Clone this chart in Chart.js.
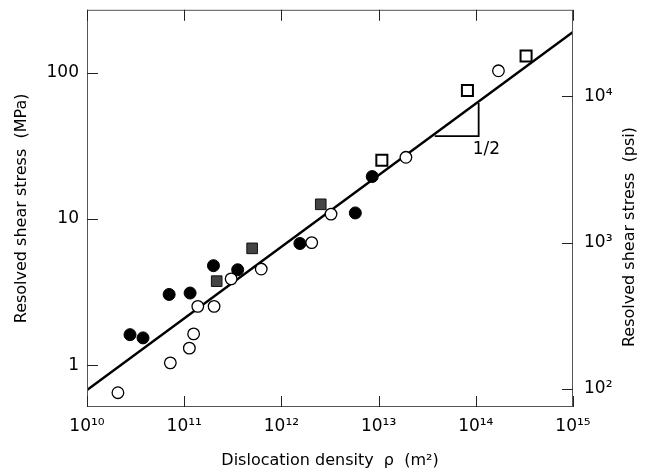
<!DOCTYPE html>
<html>
<head>
<meta charset="utf-8">
<script src="https://cdn.jsdelivr.net/npm/chart.js@4.4.1/dist/chart.umd.min.js"></script>
<style>
  html, body { margin: 0; padding: 0; background: #fff; }
</style>
</head>
<body>
<canvas id="chart" width="646" height="473"></canvas>
<script>
// dislocation density (m^-2) and resolved shear stress (MPa)
const openCircleRho = [2.08e10, 7.2e10, 1.13e11, 1.25e11, 1.38e11, 2.03e11, 3.04e11, 6.2e11, 2.05e12, 3.24e12, 1.91e13, 1.71e14];
const openCircleTau = [0.65, 1.04, 1.31, 1.64, 2.53, 2.53, 3.9, 4.55, 6.9, 10.8, 26.4, 103];

const filledCircleRho = [2.77e10, 3.77e10, 7.0e10, 1.15e11, 2.0e11, 3.55e11, 1.55e12, 5.76e12, 8.6e12];
const filledCircleTau = [1.62, 1.54, 3.05, 3.12, 4.8, 4.5, 6.8, 11.0, 19.5];

const graySquareRho = [2.16e11, 5.0e11, 2.54e12];
const graySquareTau = [3.76, 6.3, 12.6];

const openSquareRho = [1.08e13, 8.2e13, 3.29e14];
const openSquareTau = [25.2, 75.5, 130];

// fitted line, slope 1/2
const fitRho = [1e10, 1e15];
const fitTau = [0.677, 190];

// slope triangle
const triRho = [3.78e13, 1.07e14, 1.07e14];
const triTau = [36.9, 36.9, 62];
const slopeLabel = '1/2';

const xTicks = [1e10, 1e11, 1e12, 1e13, 1e14, 1e15];
const xTickLabels = ['10¹⁰', '10¹¹', '10¹²', '10¹³', '10¹⁴', '10¹⁵'];
const yTicks = [1, 10, 100];
const yTickLabels = ['1', '10', '100'];
const psiTicks = [100, 1000, 10000];
const psiTickLabels = ['10²', '10³', '10⁴'];

const yMin = 0.519, yMax = 269;
const MPA_TO_PSI = 145.04;

const pts = (xs, ys) => xs.map((x, i) => ({ x: x, y: ys[i] }));
const FONT = 'DejaVu Sans';

const decorations = {
  id: 'decorations',
  afterDraw(chart) {
    const c = chart.ctx;
    const a = chart.chartArea;
    const x = chart.scales.x, y = chart.scales.y, psi = chart.scales.psi;
    c.save();
    c.strokeStyle = '#555';
    c.lineWidth = 1;
    c.strokeRect(a.left + 0.5, a.top + 0.5, a.right - a.left - 1, a.bottom - a.top - 1);
    c.strokeStyle = '#222';
    c.beginPath();
    const len = 11;
    xTicks.forEach(v => {
      const px = Math.round(x.getPixelForValue(v)) + 0.5;
      c.moveTo(px, a.bottom); c.lineTo(px, a.bottom - len);
      c.moveTo(px, a.top); c.lineTo(px, a.top + len);
    });
    yTicks.forEach(v => {
      const py = Math.round(y.getPixelForValue(v)) + 0.5;
      c.moveTo(a.left, py); c.lineTo(a.left + len, py);
    });
    psiTicks.forEach(v => {
      const py = Math.round(psi.getPixelForValue(v)) + 0.5;
      c.moveTo(a.right, py); c.lineTo(a.right - len, py);
    });
    c.stroke();

    // slope label
    c.fillStyle = '#000';
    c.font = '17px ' + FONT;
    c.textBaseline = 'middle';
    c.textAlign = 'left';
    c.fillText(slopeLabel, x.getPixelForValue(triRho[1]) - 6, y.getPixelForValue(triTau[1]) + 14);

    // right axis title, reading bottom to top
    c.font = '16px ' + FONT;
    c.textAlign = 'center';
    c.translate(630, 237);
    c.rotate(-Math.PI / 2);
    c.fillText('Resolved shear stress  (psi)', 0, 0);
    c.restore();
  }
};

const noVPad = s => { s.paddingTop = 0; s.paddingBottom = 0; };

new Chart(document.getElementById('chart'), {
  type: 'scatter',
  data: {
    datasets: [
      { data: pts(openCircleRho, openCircleTau), pointStyle: 'circle', pointRadius: 5.8,
        backgroundColor: '#fff', borderColor: '#000', borderWidth: 1.3 },
      { data: pts(filledCircleRho, filledCircleTau), pointStyle: 'circle', pointRadius: 6,
        backgroundColor: '#000', borderColor: '#000', borderWidth: 1 },
      { data: pts(graySquareRho, graySquareTau), pointStyle: 'rect', pointRadius: 7.5,
        backgroundColor: '#444', borderColor: '#111', borderWidth: 1 },
      { data: pts(openSquareRho, openSquareTau), pointStyle: 'rect', pointRadius: 7.8,
        backgroundColor: '#fff', borderColor: '#000', borderWidth: 2 },
      { data: pts(fitRho, fitTau), showLine: true, pointRadius: 0, borderColor: '#000', borderWidth: 2.5 },
      { data: pts(triRho, triTau), showLine: true, pointRadius: 0, borderColor: '#000', borderWidth: 1.8 }
    ]
  },
  options: {
    responsive: false,
    animation: false,
    devicePixelRatio: 1,
    layout: { padding: { top: 6, left: 0, right: 0, bottom: 0 } },
    plugins: { legend: { display: false }, tooltip: { enabled: false } },
    scales: {
      x: {
        type: 'logarithmic', position: 'bottom', min: 1e10, max: 1e15,
        afterBuildTicks: s => { s.ticks = xTicks.map(v => ({ value: v })); },
        afterFit: s => { s.height = 66; s.paddingLeft = 0; s.paddingRight = 0; },
        grid: { display: false, drawTicks: false },
        border: { display: false },
        ticks: {
          autoSkip: false, maxRotation: 0, padding: 9, color: '#000',
          font: { family: FONT, size: 17 },
          callback: (v, i) => xTickLabels[i]
        },
        title: {
          display: true, text: 'Dislocation density  ρ  (m²)', color: '#000',
          font: { family: FONT, size: 16 }, padding: { top: 0, bottom: 3 }
        }
      },
      y: {
        type: 'logarithmic', position: 'left', min: yMin, max: yMax,
        afterBuildTicks: s => { s.ticks = yTicks.map(v => ({ value: v })); },
        afterFit: s => { s.width = 87; noVPad(s); },
        grid: { display: false, drawTicks: false },
        border: { display: false },
        ticks: {
          autoSkip: false, padding: 8, color: '#000',
          font: { family: FONT, size: 17 },
          callback: (v, i) => yTickLabels[i]
        },
        title: {
          display: true, text: 'Resolved shear stress  (MPa)', color: '#000',
          font: { family: FONT, size: 16 }, padding: { top: 12, bottom: 0 }
        }
      },
      psi: {
        type: 'logarithmic', position: 'right',
        min: yMin * MPA_TO_PSI, max: yMax * MPA_TO_PSI,
        afterBuildTicks: s => { s.ticks = psiTicks.map(v => ({ value: v })); },
        afterFit: s => { s.width = 73; noVPad(s); },
        grid: { display: false, drawTicks: false },
        border: { display: false },
        ticks: {
          autoSkip: false, padding: 11, color: '#000',
          font: { family: FONT, size: 17 },
          callback: (v, i) => psiTickLabels[i]
        }
      }
    }
  },
  plugins: [decorations]
});
</script>
</body>
</html>
